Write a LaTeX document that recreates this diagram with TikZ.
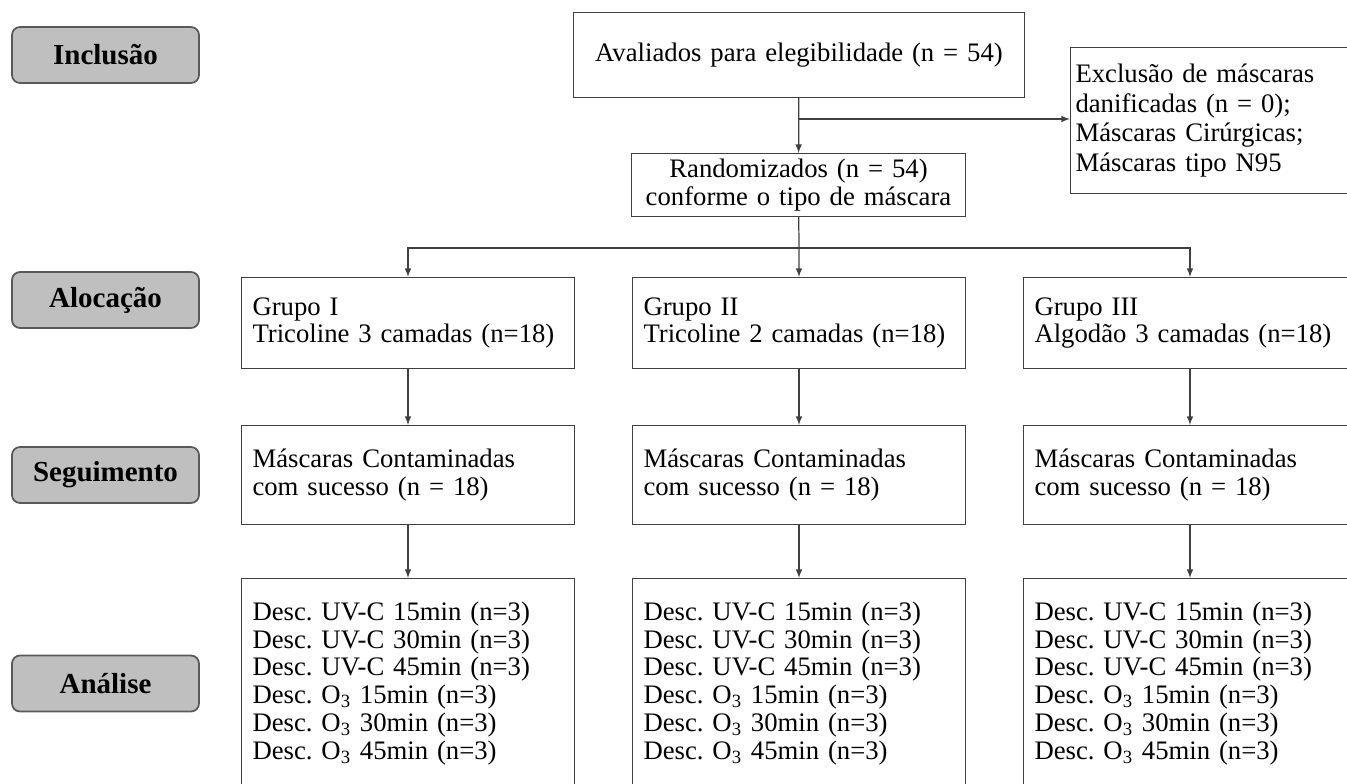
\documentclass[tikz,border=0pt]{standalone}
\usepackage{fontspec}
\setmainfont{Liberation Serif}
\usepackage{tikz}
\frenchspacing
\newcommand{\Dsc}{Desc. UV-C 15min (n=3)\\Desc. UV-C 30min (n=3)\\Desc. UV-C 45min (n=3)\\Desc. O\textsubscript{3} 15min (n=3)\\Desc. O\textsubscript{3} 30min (n=3)\\Desc. O\textsubscript{3} 45min (n=3)}
\begin{document}
\begin{tikzpicture}[x=0.02cm,y=-0.02cm]
\tikzset{edge/.style = {->,> = latex, draw=black!75, line width=0.7pt}}
\tikzset{box/.style = {draw=black!75, line width=0.6pt, anchor=north west, align=left, inner xsep=0.22cm, inner ysep=0pt, font=\fontsize{15.2}{15.9}\selectfont}}
\tikzset{stage/.style = {draw=black!65, fill=black!25, line width=1pt, rounded corners=0.16cm, minimum width=3.74cm, minimum height=1.12cm, font=\fontsize{16.5}{18}\selectfont\bfseries}}
\useasboundingbox (0,0) rectangle (1347,784);
\clip (0,0) rectangle (1347,784);
\node [stage] at (105.5,55)(I) {Inclusão};
\node [stage] at (105.5,300)(L) {Alocação};
\node [stage] at (105.5,475)(S) {Seguimento};
\node [stage] at (105.5,683.5)(N) {Análise};
\node [box, align=center, text width=8.58cm, minimum height=1.7cm] at (573,12)(A) {Avaliados para elegibilidade (n = 54)};
\node [box, align=center, text width=6.24cm, minimum height=1.26cm] at (631,153)(B) {Randomizados (n = 54)\\conforme o tipo de máscara};
\node [box, inner xsep=0.1cm, text width=5.6cm, minimum height=2.92cm, font=\fontsize{15.2}{17}\selectfont] at (1070,47)(C) {Exclusão de máscaras\\danificadas (n = 0);\\Máscaras Cirúrgicas;\\Máscaras tipo N95};
\node [box, text width=6.22cm, minimum height=1.82cm] at (241,277)(G1) {Grupo I\\Tricoline 3 camadas (n=18)};
\node [box, text width=6.22cm, minimum height=1.82cm] at (632,277)(G2) {Grupo II\\Tricoline 2 camadas (n=18)};
\node [box, text width=6.22cm, minimum height=1.82cm] at (1023,277)(G3) {Grupo III\\Algodão 3 camadas (n=18)};
\node [box, text width=6.22cm, minimum height=1.98cm] at (241,425)(S1) {Máscaras Contaminadas\\com sucesso (n = 18)};
\node [box, text width=6.22cm, minimum height=1.98cm] at (632,425)(S2) {Máscaras Contaminadas\\com sucesso (n = 18)};
\node [box, text width=6.22cm, minimum height=1.98cm] at (1023,425)(S3) {Máscaras Contaminadas\\com sucesso (n = 18)};
\node [box, text width=6.22cm, minimum height=4.2cm] at (241,578)(D1) {\Dsc};
\node [box, text width=6.22cm, minimum height=4.2cm] at (632,578)(D2) {\Dsc};
\node [box, text width=6.22cm, minimum height=4.2cm] at (1023,578)(D3) {\Dsc};
\coordinate (P) at (799,119);
\coordinate (Q) at (799,248);
\draw [edge] (A) -- (B);
\draw [edge] (P) -- (C.west |- P);
\draw [edge, -] (B) -- (Q);
\draw [edge] (Q) -| (G1.north);
\draw [edge] (Q) -- (G2.north);
\draw [edge] (Q) -| (G3.north);
\draw [edge] (G1) -- (S1);
\draw [edge] (G2) -- (S2);
\draw [edge] (G3) -- (S3);
\draw [edge] (S1) -- (D1);
\draw [edge] (S2) -- (D2);
\draw [edge] (S3) -- (D3);
\end{tikzpicture}
\end{document}
